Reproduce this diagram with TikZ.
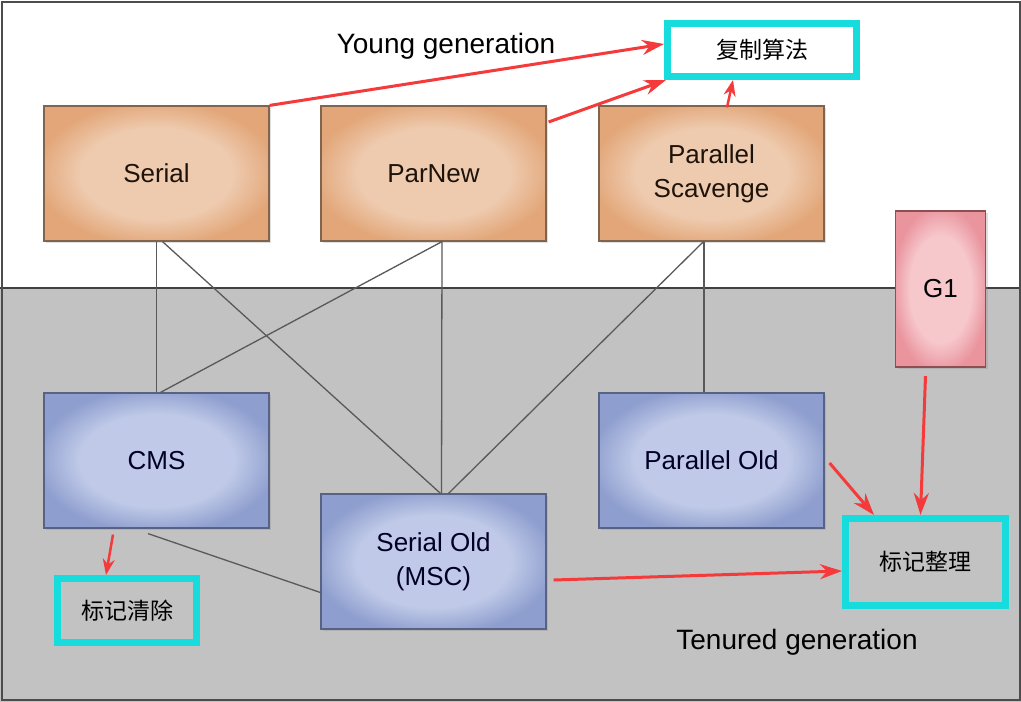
\documentclass[tikz,border=0pt]{standalone}
\usepackage{fontspec}
\setmainfont{Liberation Sans}
\newfontfamily\cjk{Noto Sans CJK SC}
\usetikzlibrary{arrows.meta,shadows}
\definecolor{youngfill}{RGB}{226,166,120}
\definecolor{youngcore}{RGB}{238,202,174}
\definecolor{youngedge}{RGB}{128,100,78}
\definecolor{oldfill}{RGB}{142,158,206}
\definecolor{oldcore}{RGB}{192,202,232}
\definecolor{oldedge}{RGB}{88,98,132}
\definecolor{gonefill}{RGB}{234,148,158}
\definecolor{gonecore}{RGB}{246,200,204}
\definecolor{goneedge}{RGB}{140,80,84}
\definecolor{tenuredgray}{RGB}{194,194,194}
\definecolor{algcyan}{RGB}{22,220,222}
\definecolor{arrowred}{RGB}{244,58,58}
% 边缘加深的填充
\pgfdeclareradialshading{youngglow}{\pgfpoint{0bp}{0bp}}{color(0bp)=(youngcore); color(17bp)=(youngcore); color(27bp)=(youngfill); color(50bp)=(youngfill)}
\pgfdeclareradialshading{oldglow}{\pgfpoint{0bp}{0bp}}{color(0bp)=(oldcore); color(17bp)=(oldcore); color(27bp)=(oldfill); color(50bp)=(oldfill)}
\pgfdeclareradialshading{goneglow}{\pgfpoint{0bp}{0bp}}{color(0bp)=(gonecore); color(17bp)=(gonecore); color(27bp)=(gonefill); color(50bp)=(gonefill)}

\begin{document}
\begin{tikzpicture}[x=1pt, y=-1pt,
    gcbox/.style={line width=1.2pt, minimum width=225pt, minimum height=135pt,
      align=center, font=\fontsize{26}{34}\selectfont,
      drop shadow={shadow xshift=2pt, shadow yshift=-2pt, opacity=0.25}},
    youngbox/.style={gcbox, draw=youngedge, shading=youngglow, text=black!85!brown},
    oldbox/.style={gcbox, draw=oldedge, shading=oldglow, text=black!85!blue},
    g1box/.style={gcbox, draw=goneedge, shading=goneglow,
      minimum width=90pt, minimum height=156pt},
    algbox/.style={draw=algcyan, line width=7pt, font=\cjk\fontsize{23}{28}\selectfont},
    gcline/.style={draw=black!65, line width=1.3pt},
    redarrow/.style={draw=arrowred, line width=3pt, -{Stealth[length=22pt, width=15pt]}},
    shortarrow/.style={redarrow, line width=2.5pt, -{Stealth[length=16pt, width=12pt]}},
  ]
    \useasboundingbox (0,0) rectangle (1021,702);

    % 背景: 新生代 / 老年代
    \fill[white] (0,0) rectangle (1021,288);
    \fill[tenuredgray] (0,288) rectangle (1021,702);
    \draw[black!75, line width=2pt] (0,288) -- (1021,288);
    \draw[black!70, line width=2pt] (1.5,2) rectangle (1020,700);

    \node[font=\fontsize{28}{34}\selectfont] (young) at (446,46) {Young generation};
    \node[font=\fontsize{28}{34}\selectfont] (tenured) at (797,642) {Tenured generation};

    % 收集器
    \node[youngbox] (serial) at (156.5,173.5) {Serial};
    \node[youngbox] (parnew) at (433.5,173.5) {ParNew};
    \node[youngbox] (pscav) at (711.5,173.5) {Parallel\\Scavenge};
    \node[g1box] (g1) at (940.5,289) {G1};
    \node[oldbox] (cms) at (156.5,460.5) {CMS};
    \node[oldbox] (parold) at (711.5,460.5) {Parallel Old};
    \node[oldbox] (serialold) at (433.5,561.5) {Serial Old\\(MSC)};

    % 算法
    \node[algbox, fill=white, minimum width=189pt, minimum height=53pt] (copyalg) at (762,50) {复制算法};
    \node[algbox, minimum width=139pt, minimum height=64pt] (sweep) at (127,610.5) {标记清除};
    \node[algbox, minimum width=160pt, minimum height=87pt] (compact) at (925.5,562) {标记整理};

    % 搭配关系
    \draw[gcline] (serial.south) -- (cms.north);
    \draw[gcline] ([xshift=6pt]serial.south) -- ([xshift=7pt]serialold.north);
    \draw[gcline] ([xshift=8.5pt]parnew.south) -- ([xshift=4pt]cms.north);
    \draw[gcline] ([xshift=8.5pt]parnew.south) -- ([xshift=8pt]serialold.north);
    \draw[gcline] ([xshift=-8pt]pscav.south) -- ([xshift=15pt]serialold.north);
    \draw[gcline] ([xshift=-7.5pt]pscav.south) -- ([xshift=-7.5pt]parold.north);
    \draw[gcline] ([xshift=-8.5pt, yshift=-5pt]cms.south) -- ([yshift=-31pt]serialold.west);

    % 指向算法
    \draw[redarrow] (serial.north east) -- ([yshift=6pt]copyalg.west);
    \draw[redarrow] ([xshift=2pt, yshift=51.5pt]parnew.east) -- ([xshift=2pt]copyalg.south west);
    \draw[shortarrow] ([xshift=15.5pt, yshift=-2pt]pscav.north) -- ([xshift=-29pt]copyalg.south);
    \draw[shortarrow] ([xshift=-43.5pt, yshift=-6pt]cms.south) -- ([xshift=-21pt]sweep.north);
    \draw[redarrow] ([xshift=5pt, yshift=-2.5pt]parold.east) -- ([xshift=32pt]compact.north west);
    \draw[redarrow] ([xshift=-15pt, yshift=-8.5pt]g1.south) -- ([xshift=-5pt]compact.north);
    \draw[redarrow] ([xshift=7pt, yshift=-18.5pt]serialold.east) -- ([yshift=-9pt]compact.west);
\end{tikzpicture}
\end{document}
